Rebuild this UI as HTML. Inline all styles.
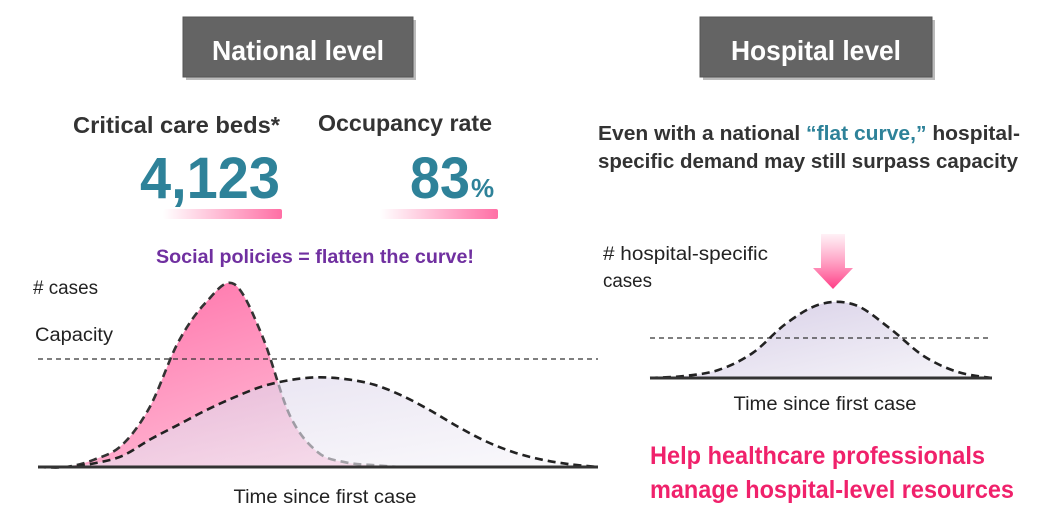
<!DOCTYPE html>
<html><head><meta charset="utf-8"><style>
html,body{margin:0;padding:0;background:#fff;}
svg{display:block;font-family:"Liberation Sans",sans-serif;}
</style></head><body>
<svg id="chart" width="1051" height="523" viewBox="0 0 1051 523">
<defs>
<linearGradient id="barGrad" x1="0" x2="1" y1="0" y2="0"><stop offset="0" stop-color="#ff6fa5" stop-opacity="0"/><stop offset="1" stop-color="#ff6fa5"/></linearGradient>
<linearGradient id="pinkFill" x1="0" y1="0" x2="1" y2="1"><stop offset="0" stop-color="#ff5c9c"/><stop offset="1" stop-color="#ffd9e8"/></linearGradient>
<linearGradient id="greyFill" x1="0" y1="0" x2="1" y2="1"><stop offset="0" stop-color="#d6cde6"/><stop offset="1" stop-color="#f7f6fa"/></linearGradient>
<linearGradient id="arrowGrad" x1="0" y1="0" x2="0" y2="1"><stop offset="0" stop-color="#ff6fa5" stop-opacity="0.1"/><stop offset="1" stop-color="#ff3d85"/></linearGradient>
</defs>
<g>
<rect x="186" y="20" width="230" height="60" fill="#bbb"/>
<rect x="183" y="17" width="230" height="60" fill="#646464" stroke="#555"/>
<text x="298" y="60" text-anchor="middle" font-size="28" font-weight="bold" fill="#fff" textLength="172" lengthAdjust="spacingAndGlyphs">National level</text>
</g>
<g>
<rect x="703" y="20" width="232" height="60" fill="#bbb"/>
<rect x="700" y="17" width="232" height="60" fill="#646464" stroke="#555"/>
<text x="816" y="60" text-anchor="middle" font-size="28" font-weight="bold" fill="#fff" textLength="170" lengthAdjust="spacingAndGlyphs">Hospital level</text>
</g>
<text x="73" y="133" font-size="23" font-weight="bold" fill="#333" textLength="207" lengthAdjust="spacingAndGlyphs">Critical care beds*</text>
<text x="318" y="131" font-size="23" font-weight="bold" fill="#333" textLength="174" lengthAdjust="spacingAndGlyphs">Occupancy rate</text>
<text x="140" y="198" font-size="58" font-weight="bold" fill="#2e8299" textLength="140" lengthAdjust="spacingAndGlyphs">4,123</text>
<text x="410" y="198" font-size="58" font-weight="bold" fill="#2e8299" textLength="60" lengthAdjust="spacingAndGlyphs">83</text>
<text x="471" y="197" font-size="26" font-weight="bold" fill="#2e8299">%</text>
<rect x="163" y="209" width="119" height="10" rx="2" fill="url(#barGrad)"/>
<rect x="380" y="209" width="118" height="10" rx="2" fill="url(#barGrad)"/>
<text x="315" y="263" text-anchor="middle" font-size="19" font-weight="bold" fill="#7030a0" textLength="318" lengthAdjust="spacingAndGlyphs">Social policies = flatten the curve!</text>
<text x="33" y="294" font-size="19" fill="#222" textLength="65" lengthAdjust="spacingAndGlyphs">#&#160;cases</text>
<text x="35" y="341" font-size="19" fill="#222" textLength="78" lengthAdjust="spacingAndGlyphs">Capacity</text>
<text x="325" y="503" text-anchor="middle" font-size="19" fill="#222" textLength="183" lengthAdjust="spacingAndGlyphs">Time since first case</text>
<g id="left-plot"></g>
<text x="598" y="140" font-size="20" font-weight="bold" fill="#333" textLength="422" lengthAdjust="spacingAndGlyphs">Even with a national <tspan fill="#2e8299">“flat curve,”</tspan> hospital-</text>
<text x="598" y="168" font-size="20" font-weight="bold" fill="#333" textLength="420" lengthAdjust="spacingAndGlyphs">specific demand may still surpass capacity</text>
<text x="603" y="260" font-size="19" fill="#222" textLength="165" lengthAdjust="spacingAndGlyphs">#&#160;hospital-specific</text>
<text x="603" y="287" font-size="19" fill="#222" textLength="49" lengthAdjust="spacingAndGlyphs">cases</text>
<text x="825" y="410" text-anchor="middle" font-size="19" fill="#222" textLength="183" lengthAdjust="spacingAndGlyphs">Time since first case</text>
<path d="M821,234 H845 V268 H853 L833,289 L813,268 H821 Z" fill="url(#arrowGrad)"/>
<g id="right-plot"></g>
<text x="650" y="464" font-size="25" font-weight="bold" fill="#f0216b" textLength="335" lengthAdjust="spacingAndGlyphs">Help healthcare professionals</text>
<text x="650" y="498" font-size="25" font-weight="bold" fill="#f0216b" textLength="364" lengthAdjust="spacingAndGlyphs">manage hospital-level resources</text>
</svg>
<script>
// Left chart data (time index 0..20)
const timePoints = [0,1,2,3,4,5,6,7,8,9,10,11,12,13,14,15,16,17,18,19,20];
const unmitigatedCases = [0,0,4,12,33,68,90,100,72,28,8,2.5,1,0,0,0,0,0,0,0,0];
const flattenedCases = [0,0,2,6,15,23,31,38,44,47.5,49,48,45,39,31,22,14,8,4,1.5,0];
const capacityLevel = [59];
// Right chart data (time index 0..10)
const hospitalTime = [0,1,2,3,4,5,6,7,8,9,10];
const hospitalCases = [0,2,8,25,55,74,73,50,22,6,0];
const hospitalCapacity = [40];

const NS = "http://www.w3.org/2000/svg";
function xL(t){return 38 + t*28;}
function yL(v){return 467 - v*1.83;}
function xR(t){return 650 + t*34.2;}
function yR(v){return 378 - v*1.0;}

function smooth(pts){
  let d = "M"+pts[0][0]+","+pts[0][1];
  for(let i=0;i<pts.length-1;i++){
    const p0=pts[Math.max(0,i-1)],p1=pts[i],p2=pts[i+1],p3=pts[Math.min(pts.length-1,i+2)];
    const c1x=p1[0]+(p2[0]-p0[0])/6, c1y=p1[1]+(p2[1]-p0[1])/6;
    const c2x=p2[0]-(p3[0]-p1[0])/6, c2y=p2[1]-(p3[1]-p1[1])/6;
    d+=" C"+c1x+","+c1y+" "+c2x+","+c2y+" "+p2[0]+","+p2[1];
  }
  return d;
}
function mk(tag,attrs,parent){const e=document.createElementNS(NS,tag);for(const k in attrs)e.setAttribute(k,attrs[k]);parent.appendChild(e);return e;}

const left = document.getElementById("left-plot");
const flatPts = timePoints.map((t,i)=>[xL(t),yL(flattenedCases[i])]);
const pinkPts = timePoints.map((t,i)=>[xL(t),yL(unmitigatedCases[i])]);
const flatD = smooth(flatPts), pinkD = smooth(pinkPts);
let e;
e = mk("path",{d:pinkD+" Z",fill:"url(#pinkFill)","fill-opacity":"0.9"},left);


e = mk("path",{d:pinkD,fill:"none",stroke:"#333","stroke-width":2.6,"stroke-dasharray":"8,5"},left);


e = mk("path",{d:flatD+" Z",fill:"url(#greyFill)","fill-opacity":"0.6"},left);


e = mk("line",{x1:xL(0),x2:xL(20),y1:yL(capacityLevel[0]),y2:yL(capacityLevel[0]),stroke:"#333","stroke-width":1.2,"stroke-dasharray":"5,4"},left);


e = mk("path",{d:flatD,fill:"none",stroke:"#222","stroke-width":2.6,"stroke-dasharray":"8,5"},left);


e = mk("line",{x1:xL(0),x2:xL(20),y1:yL(0),y2:yL(0),stroke:"#333","stroke-width":3},left);



const right = document.getElementById("right-plot");
const hPts = hospitalTime.map((t,i)=>[xR(t),yR(hospitalCases[i])]);
const hD = smooth(hPts);
e = mk("path",{d:hD+" Z",fill:"url(#greyFill)"},right);


e = mk("line",{x1:xR(0),x2:xR(10),y1:yR(hospitalCapacity[0]),y2:yR(hospitalCapacity[0]),stroke:"#333","stroke-width":1.2,"stroke-dasharray":"5,4"},right);


e = mk("path",{d:hD,fill:"none",stroke:"#222","stroke-width":2.6,"stroke-dasharray":"8,5"},right);


e = mk("line",{x1:xR(0),x2:xR(10),y1:yR(0),y2:yR(0),stroke:"#333","stroke-width":3},right);


</script>
</body></html>
